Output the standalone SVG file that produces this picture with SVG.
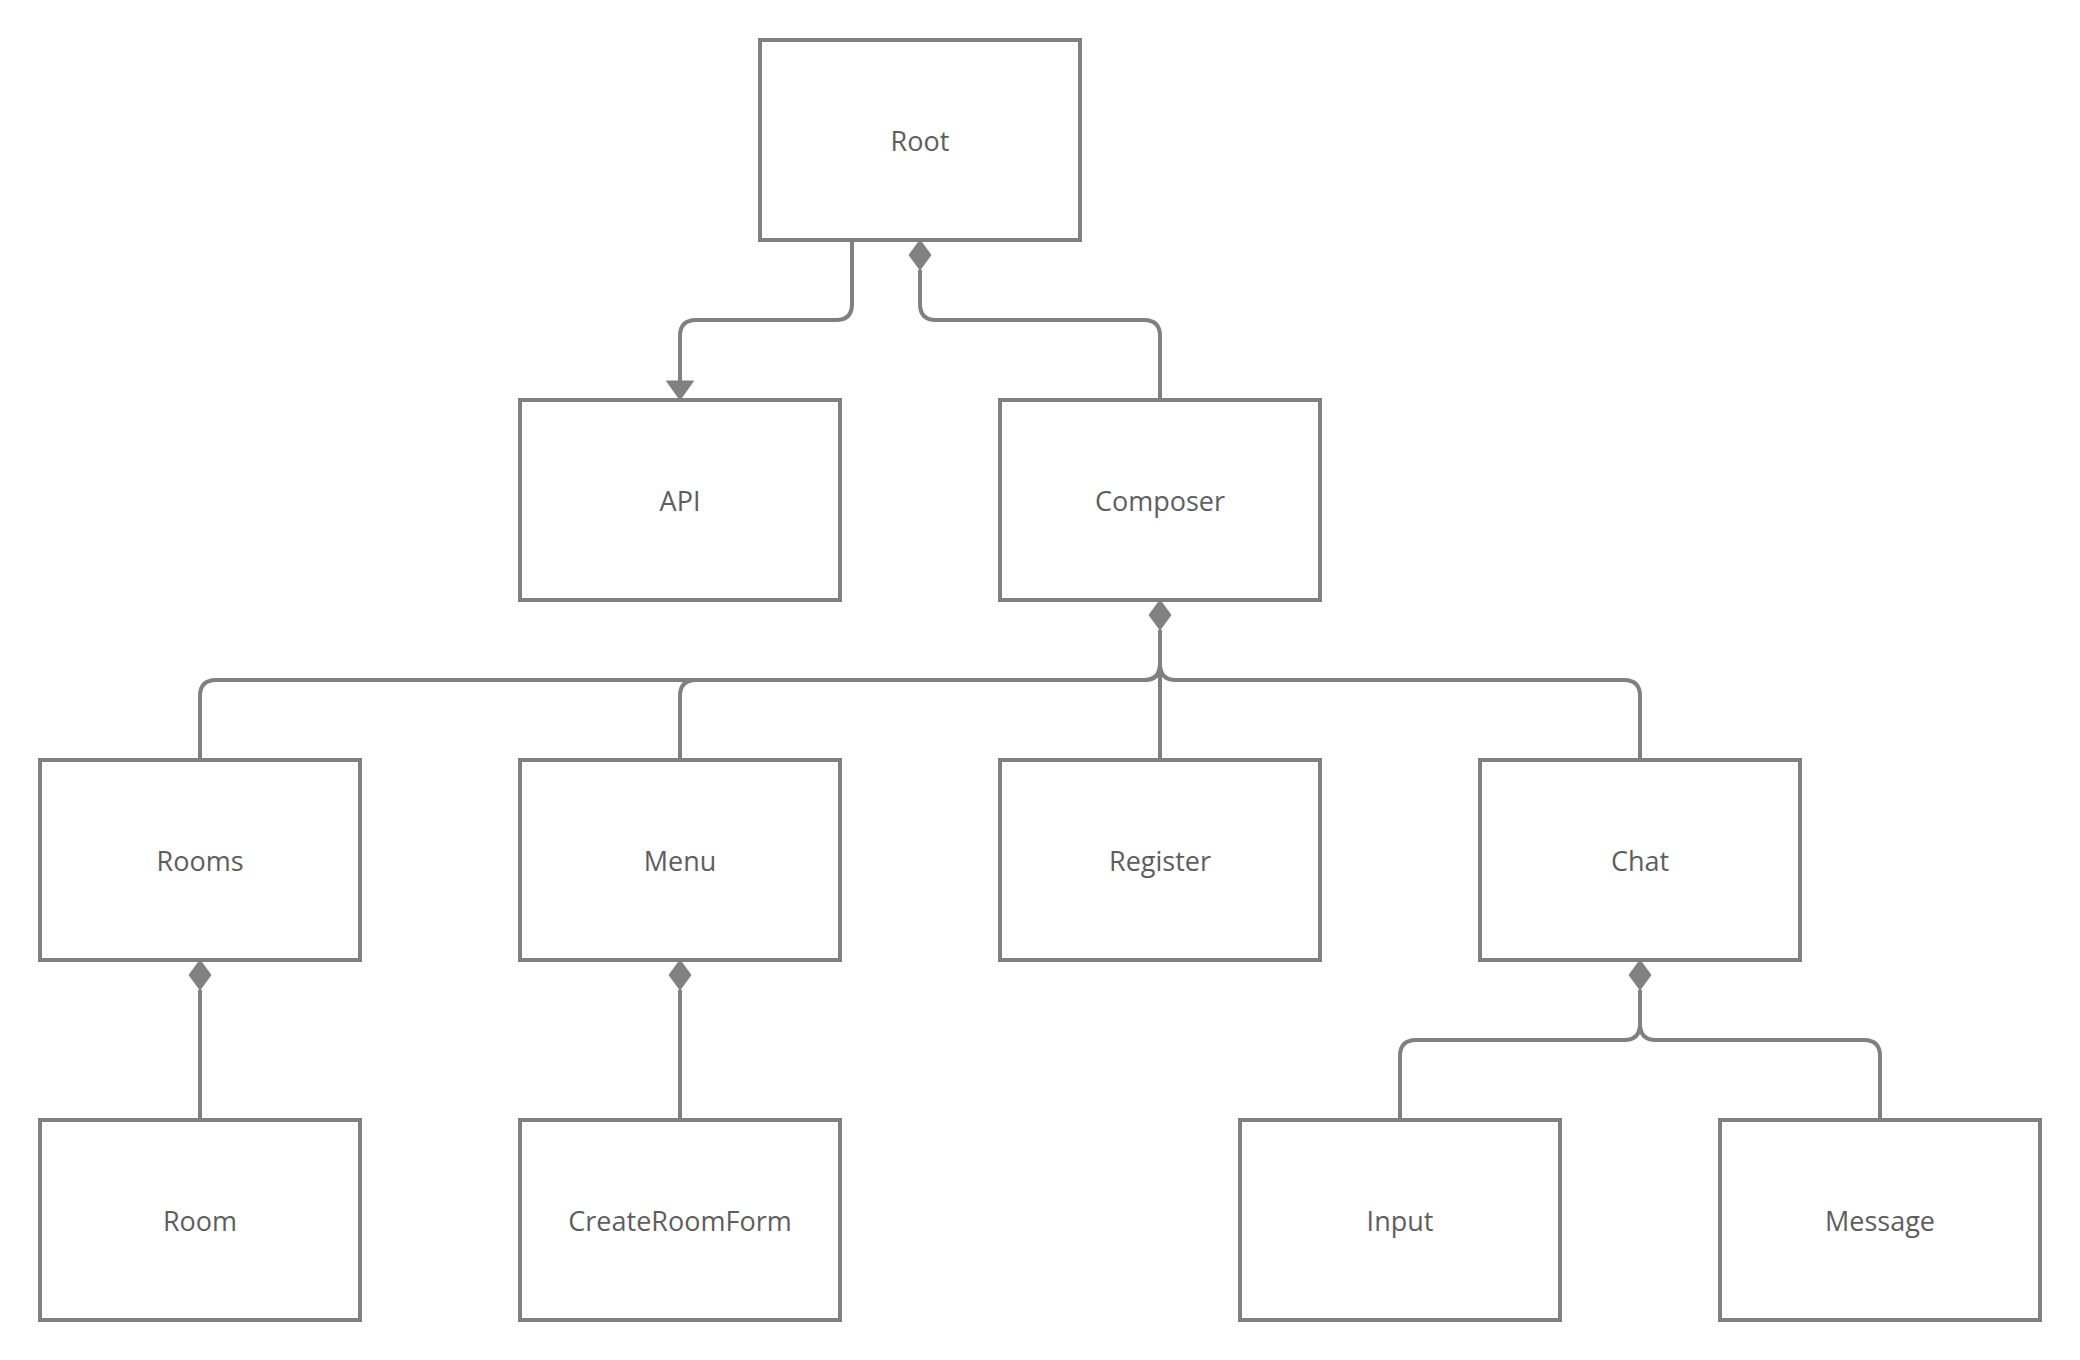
<svg xmlns="http://www.w3.org/2000/svg" width="2080" height="1360" viewBox="0 0 2080 1360">
<style>
.box{fill:#ffffff;stroke:#808080;stroke-width:4}
.lbl{font-family:"Open Sans","Noto Sans",sans-serif;font-size:27px;fill:#5e5e5e;text-anchor:middle}
.wire{fill:none;stroke:#808080;stroke-width:4}
.dia{fill:#808080;stroke:#808080;stroke-width:1}
</style>
<rect width="2080" height="1360" fill="#ffffff"/>
<g id="connectors">
<path class="wire" d="M852,240 V304 Q852,320 836,320 H696 Q680,320 680,336 V382"/>
<path class="dia" d="M666.5,381 L693.5,381 L680,400 Z"/>
<path class="wire" d="M920,270 V304 Q920,320 936,320 H1144 Q1160,320 1160,336 V400"/>
<path class="dia" d="M920,240 L931,255 L920,270 L909,255 Z"/>
<path class="wire" d="M1160,630 V664 Q1160,680 1144,680 H216 Q200,680 200,696 V760"/>
<path class="wire" d="M1160,664 Q1160,680 1144,680 H696 Q680,680 680,696 V760"/>
<path class="wire" d="M1160,630 V760"/>
<path class="wire" d="M1160,664 Q1160,680 1176,680 H1624 Q1640,680 1640,696 V760"/>
<path class="dia" d="M1160,600 L1171,615 L1160,630 L1149,615 Z"/>
<path class="wire" d="M200,990 V1120"/>
<path class="dia" d="M200,960 L211,975 L200,990 L189,975 Z"/>
<path class="wire" d="M680,990 V1120"/>
<path class="dia" d="M680,960 L691,975 L680,990 L669,975 Z"/>
<path class="wire" d="M1640,990 V1024 Q1640,1040 1624,1040 H1416 Q1400,1040 1400,1056 V1120"/>
<path class="wire" d="M1640,1024 Q1640,1040 1656,1040 H1864 Q1880,1040 1880,1056 V1120"/>
<path class="dia" d="M1640,960 L1651,975 L1640,990 L1629,975 Z"/>
</g>
<g id="root"><rect class="box" x="760" y="40" width="320" height="200"/><text class="lbl" x="920" y="150.5">Root</text></g>
<g id="api"><rect class="box" x="520" y="400" width="320" height="200"/><text class="lbl" x="680" y="510.5">API</text></g>
<g id="composer"><rect class="box" x="1000" y="400" width="320" height="200"/><text class="lbl" x="1160" y="510.5">Composer</text></g>
<g id="rooms"><rect class="box" x="40" y="760" width="320" height="200"/><text class="lbl" x="200" y="870.5">Rooms</text></g>
<g id="menu"><rect class="box" x="520" y="760" width="320" height="200"/><text class="lbl" x="680" y="870.5">Menu</text></g>
<g id="register"><rect class="box" x="1000" y="760" width="320" height="200"/><text class="lbl" x="1160" y="870.5">Register</text></g>
<g id="chat"><rect class="box" x="1480" y="760" width="320" height="200"/><text class="lbl" x="1640" y="870.5">Chat</text></g>
<g id="room"><rect class="box" x="40" y="1120" width="320" height="200"/><text class="lbl" x="200" y="1230.5">Room</text></g>
<g id="createroomform"><rect class="box" x="520" y="1120" width="320" height="200"/><text class="lbl" x="680" y="1230.5">CreateRoomForm</text></g>
<g id="input"><rect class="box" x="1240" y="1120" width="320" height="200"/><text class="lbl" x="1400" y="1230.5">Input</text></g>
<g id="message"><rect class="box" x="1720" y="1120" width="320" height="200"/><text class="lbl" x="1880" y="1230.5">Message</text></g>
</svg>
